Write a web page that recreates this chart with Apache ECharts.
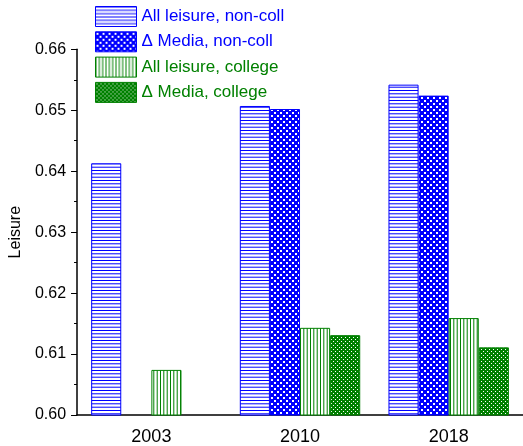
<!DOCTYPE html>
<html><head><meta charset="utf-8">
<script src="https://cdn.jsdelivr.net/npm/echarts@6/dist/echarts.min.js"></script>
<style>html,body{margin:0;padding:0;background:#fff}#c{width:523px;height:446px}</style>
</head><body><div id="c"></div>
<script>
const categories = ['2003', '2010', '2018'];
const seriesNames = ['All leisure, non-coll', '\u0394 Media, non-coll', 'All leisure, college', '\u0394 Media, college'];
const allLeisureNonColl = [0.6413, 0.6507, 0.6542];
const mediaNonColl = [null, 0.6502, 0.6524];
const allLeisureCollege = [0.6074, 0.6143, 0.6159];
const mediaCollege = [null, 0.6131, 0.6111];
const yTicks = {min: 0.60, max: 0.66, interval: 0.01};

const BLUE = '#0000ff', GREEN = '#008000';
function mk(w, h, draw) {
  const c = document.createElement('canvas'); c.width = w; c.height = h;
  const g = c.getContext('2d'); g.fillStyle = '#fff'; g.fillRect(0, 0, w, h); draw(g); return c;
}
const hLines = mk(1, 10, g => {
  const rows = [[0,1],[3,0.7],[4,0.3],[6,0.3],[7,0.7]];
  rows.forEach(([y,a]) => { g.globalAlpha = a; g.fillStyle = BLUE; g.fillRect(0, y, 1, 1); });
});
const vLines = mk(10, 1, g => {
  const cols = [[0,1],[3,0.7],[4,0.3],[6,0.3],[7,0.7]];
  cols.forEach(([x,a]) => { g.globalAlpha = a; g.fillStyle = GREEN; g.fillRect(x, 0, 1, 1); });
});
const blueHatch = mk(6, 6, g => {
  g.fillStyle = BLUE; g.fillRect(0, 0, 6, 6);
  g.fillStyle = '#fff';
  g.fillRect(1, 1, 2, 2); g.fillRect(4, 4, 2, 2);
});
const greenHatch = mk(4, 4, g => {
  g.fillStyle = GREEN; g.fillRect(0, 0, 4, 4);
  g.fillStyle = '#fff';
  g.fillRect(1, 1, 1, 1); g.fillRect(3, 3, 1, 1);
});
const pats = [hLines, blueHatch, vLines, greenHatch];
const cols = [BLUE, BLUE, GREEN, GREEN];
const datas = [allLeisureNonColl, mediaNonColl, allLeisureCollege, mediaCollege];

const chart = echarts.init(document.getElementById('c'), null, {renderer: 'canvas'});
chart.setOption({
  animation: false,
  textStyle: {fontFamily: 'Liberation Sans, Arial, sans-serif'},
  grid: {left: 74, right: -4, top: 49.3, bottom: 31, containLabel: false},
  legend: {
    orient: 'vertical', left: 95, top: 6, padding: 0, itemWidth: 41, itemHeight: 20, itemGap: 4.3,
    textStyle: {fontSize: 17},
    itemStyle: {borderWidth: 1},
    data: seriesNames.map((n, i) => ({name: n, icon: 'rect', textStyle: {color: cols[i]}}))
  },
  xAxis: {
    type: 'category', data: categories,
    axisLine: {lineStyle: {color: '#000', width: 1.5}},
    axisTick: {alignWithLabel: true, length: 5, lineStyle: {color: '#000'}},
    axisLabel: {color: '#000', fontSize: 18, margin: 13}
  },
  yAxis: {
    type: 'value', min: yTicks.min, max: yTicks.max, interval: yTicks.interval,
    name: 'Leisure', nameLocation: 'middle', nameGap: 50, nameTextStyle: {color: '#000', fontSize: 16},
    axisLine: {show: true, lineStyle: {color: '#000', width: 1.5}},
    axisTick: {show: true, length: 6, lineStyle: {color: '#000'}},
    minorTick: {show: true, splitNumber: 2, length: 3, lineStyle: {color: '#000'}},
    splitLine: {show: false},
    axisLabel: {color: '#000', fontSize: 16, margin: 11, formatter: v => v.toFixed(2)}
  },
  series: seriesNames.map((n, i) => ({
    name: n, type: 'bar', data: datas[i], barGap: '0%', barCategoryGap: '19%',
    itemStyle: {color: {image: pats[i], repeat: 'repeat'}, borderColor: cols[i], borderWidth: 1}
  }))
});
</script></body></html>
